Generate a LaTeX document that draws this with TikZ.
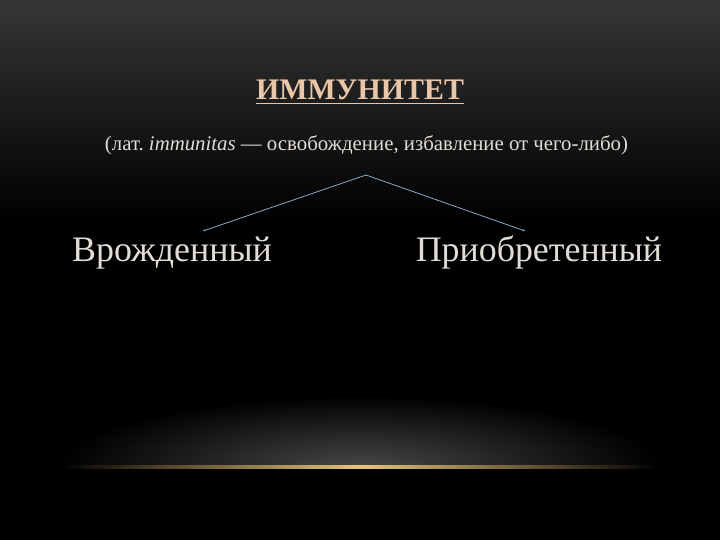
\documentclass[tikz,border=0pt]{standalone}
\usepackage{fontspec}
\setmainfont{Liberation Serif}
\usetikzlibrary{positioning, arrows.meta}
\definecolor{coal}{RGB}{54,54,54}
\definecolor{smoke}{RGB}{70,70,70}
\definecolor{peach}{RGB}{234,198,168}
\definecolor{ash}{RGB}{226,220,214}
\definecolor{steel}{RGB}{138,168,198}
\definecolor{amber}{RGB}{232,196,120}

\begin{document}
\begin{tikzpicture}[
  x=1bp, y=-1bp,
  every node/.style={
    text=ash,
    inner sep=0pt,
    anchor=base,
  },
  kind/.style={font=\fontsize{36}{42}\selectfont},
  branch/.style={draw=steel, line width=0.8bp, -{Stealth[length=3bp, width=2.5bp]}}
]

\useasboundingbox (0,0) rectangle (720,540);
\fill[black] (0,0) rectangle (720,540);
\shade[top color=coal, bottom color=black] (0,0) rectangle (720,220);
\begin{scope}
  \clip (0,380) rectangle (720,466);
  \shade[inner color=smoke, outer color=black] (360,466) ellipse (300 and 70);
\end{scope}
\shade[left color=black, right color=amber] (60,465) rectangle (360,468);
\shade[left color=amber, right color=black] (360,465) rectangle (660,468);

\node[font=\bfseries\fontsize{30}{36}\selectfont, text=peach] (title) at (360,100) {ИММУНИТЕТ};
\draw[peach, line width=1.5bp] ([yshift=-3.5bp]title.base west) -- ([yshift=-3.5bp]title.base east);
\node[font=\fontsize{20.9}{24}\selectfont] (gloss) at (366.5,151) {(лат.\ \textit{immunitas} — освобождение, избавление от чего-либо)};

\node[kind] (innate) at (172,262) {Врожденный};
\node[kind] (acquired) at (539,262) {Приобретенный};

\coordinate (fork) at (366,175);
\coordinate (innate-tip) at (203,231);
\coordinate (acquired-tip) at (525,231);
\draw[branch] (fork) -- (innate-tip);
\draw[branch] (fork) -- (acquired-tip);

\end{tikzpicture}
\end{document}
